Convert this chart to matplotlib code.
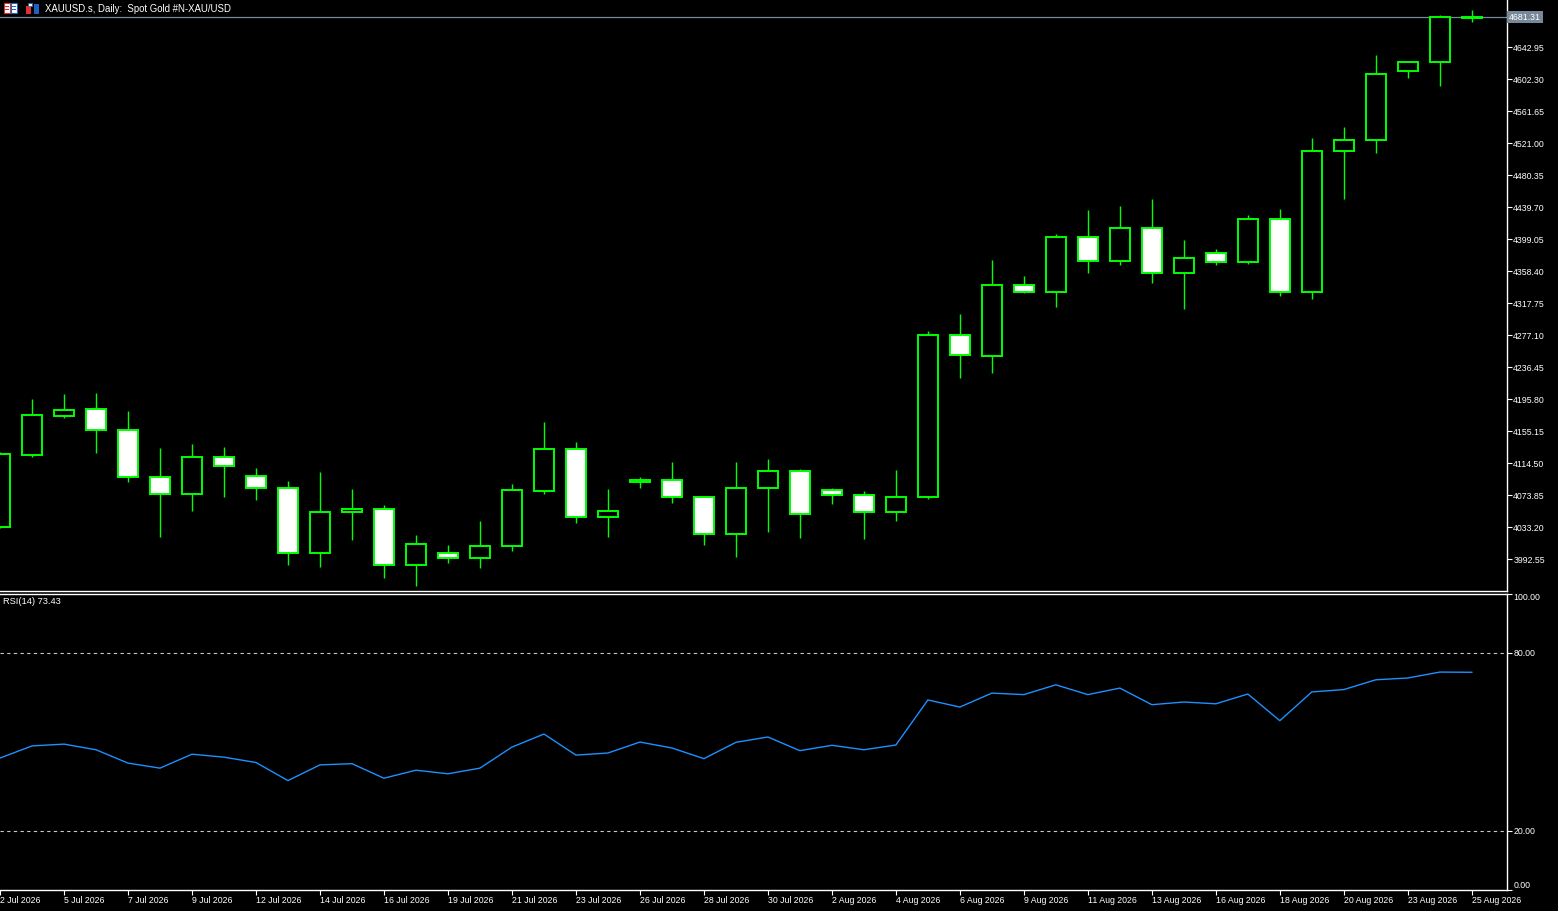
import matplotlib
matplotlib.use("Agg")
import matplotlib.pyplot as plt
from matplotlib.patches import Rectangle
from matplotlib.transforms import blended_transform_factory

plt.rcParams["font.family"] = ["Liberation Sans", "DejaVu Sans"]

# ── data ──────────────────────────────────────────────────────
date_labels = ["2 Jul 2026", "5 Jul 2026", "7 Jul 2026", "9 Jul 2026",
               "12 Jul 2026", "14 Jul 2026", "16 Jul 2026", "19 Jul 2026",
               "21 Jul 2026", "23 Jul 2026", "26 Jul 2026", "28 Jul 2026",
               "30 Jul 2026", "2 Aug 2026", "4 Aug 2026", "6 Aug 2026",
               "9 Aug 2026", "11 Aug 2026", "13 Aug 2026", "16 Aug 2026",
               "18 Aug 2026", "20 Aug 2026", "23 Aug 2026", "25 Aug 2026"]

opens = [4034.1, 4125.0, 4174.6, 4184.0, 4157.3, 4097.6, 4075.5, 4123.0,
         4098.9, 4083.6, 4000.6, 4052.6, 4056.9, 3985.8, 4001.1, 3994.7,
         4010.0, 4079.8, 4133.2, 4046.8, 4091.2, 4093.8, 4072.2, 4025.2,
         4083.6, 4105.2, 4081.1, 4074.7, 4053.1, 4072.2, 4278.0, 4251.3,
         4341.5, 4332.6, 4402.5, 4372.0, 4414.0, 4356.8, 4382.2, 4370.7,
         4425.3, 4332.6, 4511.7, 4525.7, 4613.3, 4624.8, 4680.6]
highs = [4128.5, 4195.8, 4202.2, 4203.4, 4180.6, 4133.6, 4138.6, 4134.8,
         4108.2, 4091.6, 4103.1, 4081.5, 4061.2, 4023.0, 4010.3, 4040.8,
         4087.8, 4166.6, 4141.2, 4081.5, 4096.7, 4115.8, 4073.5, 4115.8,
         4119.6, 4106.9, 4082.7, 4078.9, 4105.6, 4282.2, 4303.8, 4372.4,
         4352.1, 4405.4, 4435.9, 4441.0, 4449.9, 4397.8, 4386.4, 4429.5,
         4437.2, 4527.4, 4541.3, 4632.8, 4625.5, 4683.6, 4690.0]
lows = [4031.9, 4122.5, 4172.0, 4127.6, 4090.7, 4020.9, 4053.9, 4071.7,
        4067.9, 3985.3, 3982.8, 4017.1, 3968.8, 3958.6, 3987.9, 3981.5,
        4003.1, 4075.5, 4038.7, 4020.9, 4083.1, 4064.1, 4010.7, 3995.5,
        4027.2, 4019.6, 4062.8, 4018.3, 4041.2, 4069.1, 4222.9, 4229.2,
        4330.8, 4313.0, 4356.2, 4366.4, 4343.5, 4310.5, 4366.4, 4367.7,
        4327.0, 4323.2, 4450.2, 4508.7, 4604.0, 4593.8, 4674.7]
closes = [4125.9, 4175.5, 4182.7, 4156.8, 4097.1, 4075.5, 4123.0, 4111.1,
          4083.1, 4000.6, 4053.1, 4056.9, 3985.8, 4012.5, 3994.7, 4010.0,
          4080.2, 4133.2, 4046.8, 4054.4, 4093.8, 4072.2, 4025.2, 4083.6,
          4105.2, 4050.6, 4074.7, 4053.1, 4072.2, 4278.0, 4252.6, 4341.5,
          4332.6, 4402.5, 4372.0, 4414.0, 4356.8, 4375.8, 4370.7, 4425.3,
          4332.6, 4511.7, 4525.7, 4608.7, 4624.8, 4681.1, 4681.31]

rsi = [44.5, 48.6, 49.2, 47.3, 42.8, 41.1, 45.8, 44.8, 43.0, 36.9,
       42.2, 42.6, 37.7, 40.4, 39.2, 41.1, 48.2, 52.6, 45.5, 46.2,
       49.9, 47.9, 44.3, 49.8, 51.6, 47.0, 48.8, 47.3, 48.9, 64.1,
       61.7, 66.4, 65.9, 69.2, 65.9, 68.1, 62.5, 63.4, 62.8, 66.1,
       57.1, 66.8, 67.6, 70.9, 71.5, 73.5, 73.43]

price_ticks = [3992.55, 4033.20, 4073.85, 4114.50, 4155.15, 4195.80,
               4236.45, 4277.10, 4317.75, 4358.40, 4399.05, 4439.70,
               4480.35, 4521.00, 4561.65, 4602.30, 4642.95]
bid = 4681.31
rsi_ticks = [0, 20, 80, 100]

# ── layout (pixel based) ──────────────────────────────────────
W, H = 1558, 911
GREEN = "#00ff00"
FS = 6.3

fig = plt.figure(figsize=(W / 100, H / 100), dpi=100, facecolor="black")
ax = fig.add_axes([0, 1 - 591 / H, 1507 / W, 591 / H], facecolor="black")
ax2 = fig.add_axes([0, 1 - 890 / H, 1507 / W, (890 - 593.5) / H], facecolor="black")

n = len(opens)
xs = list(range(n))
bw = 0.64

# ── candles ──────────────────────────────────────────────────
ax.vlines(xs, lows, highs, color=GREEN, lw=1.0, zorder=2)
for i in xs:
    o, c = opens[i], closes[i]
    face = "black" if c >= o else "white"
    ax.add_patch(Rectangle((i - bw / 2, min(o, c)), bw, max(abs(c - o), 0.01),
                           facecolor=face, edgecolor=GREEN, lw=1.4, zorder=3))

ax.axhline(bid, color="#778899", lw=0.9, zorder=1)
tr = blended_transform_factory(ax.transAxes, ax.transData)
ax.text(1.0 + 2 / 1507, bid, "4681.31", transform=tr, ha="left", va="center",
        color="white", fontsize=FS, clip_on=False,
        bbox=dict(facecolor="#778899", edgecolor="none", pad=1.2))

ax.set_xlim(0, 47.1)
ax.set_ylim(3952.3, 4703.0)
ax.yaxis.tick_right()
ax.set_yticks(price_ticks)
ax.set_yticklabels([f"{v:.2f}" for v in price_ticks])
ax.tick_params(axis="y", colors="white", direction="out", length=3.5,
               width=0.8, labelsize=FS, pad=1)
ax.tick_params(axis="x", bottom=False, labelbottom=False)
for s in ["left", "top"]:
    ax.spines[s].set_visible(False)
for s in ["right", "bottom"]:
    ax.spines[s].set_color("white")
    ax.spines[s].set_linewidth(1.0)

# ── RSI panel ────────────────────────────────────────────────
ax2.plot(xs, rsi, color="#1e90ff", lw=1.0)
for lv in (80, 20):
    ax2.axhline(lv, color="#c8c8c8", lw=0.8, dashes=(3, 3))
ax2.set_xlim(0, 47.1)
ax2.set_ylim(0, 100)
ax2.yaxis.tick_right()
ax2.set_yticks(rsi_ticks)
ax2.set_yticklabels([f"{v:.2f}" for v in rsi_ticks])
for lbl, v in zip(ax2.get_yticklabels(), rsi_ticks):
    if v == 100:
        lbl.set_va("top")
    elif v == 0:
        lbl.set_va("bottom")
ax2.tick_params(axis="y", colors="white", direction="out", length=3.5,
                width=0.8, labelsize=FS, pad=1)
ax2.set_xticks(xs[::2])
ax2.set_xticklabels(date_labels, ha="left")
ax2.tick_params(axis="x", colors="white", direction="out", length=3.5,
                width=0.8, labelsize=FS, pad=1)
ax2.spines["left"].set_visible(False)
for s in ["right", "bottom", "top"]:
    ax2.spines[s].set_color("white")
    ax2.spines[s].set_linewidth(1.0)

# ── header texts and little icons ────────────────────────────
def px_rect(x, y, w, h, **kw):
    fig.patches.append(Rectangle((x / W, 1 - (y + h) / H), w / W, h / H,
                                 transform=fig.transFigure, **kw))

px_rect(4, 3, 6, 10, facecolor="white", edgecolor="#e03030", lw=0.8)
px_rect(11, 3, 6, 10, facecolor="white", edgecolor="#2060c0", lw=0.8)
for yy in (6, 9):
    px_rect(5, yy, 4, 1, facecolor="#e03030", lw=0)
    px_rect(12, yy, 4, 1, facecolor="#2060c0", lw=0)
px_rect(26, 6, 5, 8, facecolor="#e03030", lw=0)
px_rect(28, 3, 4, 3, facecolor="white", edgecolor="#2060c0", lw=0.6)
px_rect(34, 4, 5, 10, facecolor="#2060c0", lw=0)

fig.text(45 / W, 1 - 9 / H, "XAUUSD.s, Daily:  Spot Gold #N-XAU/USD",
         color="white", fontsize=6.9, va="center", ha="left")
fig.text(3 / W, 1 - 602 / H, "RSI(14) 73.43", color="white", fontsize=6.7,
         va="center", ha="left")

fig.savefig("out.png", dpi=100, facecolor="black")
